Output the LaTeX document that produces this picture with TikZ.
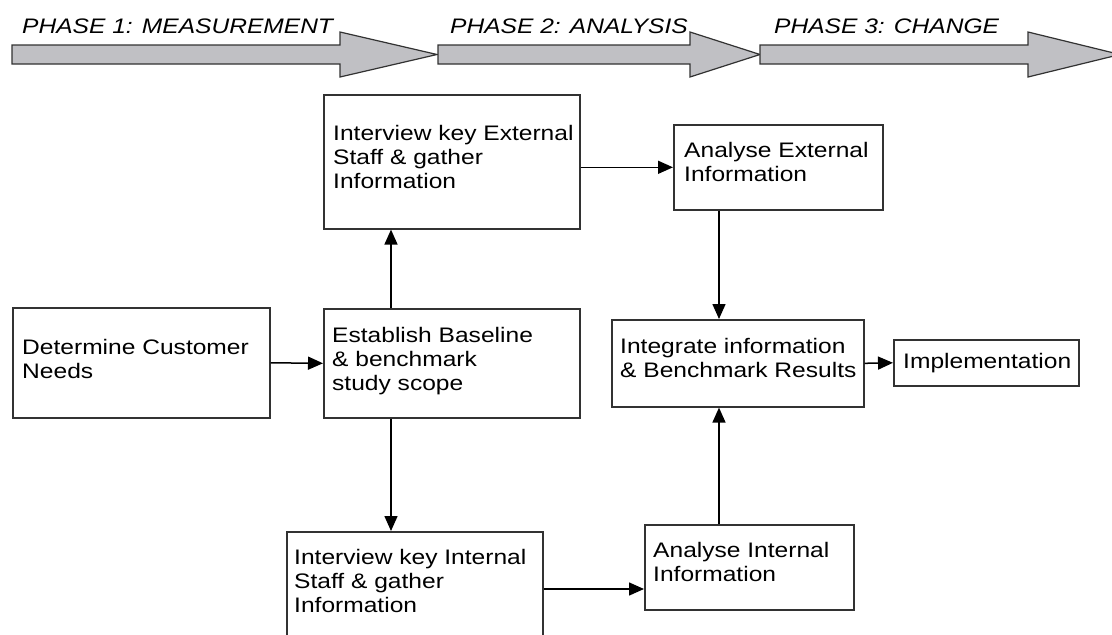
\documentclass[tikz,border=0pt]{standalone}
\usepackage{fontspec}
\setmainfont{Liberation Sans}[FakeStretch=1.17]
\usetikzlibrary{arrows.meta,calc}
\definecolor{edge}{RGB}{50,50,50}
\definecolor{band}{RGB}{192,192,196}
% left-aligned lines whose reference point is the first baseline
\newcommand{\firstlines}[1]{\begin{tabular}[t]{@{}l@{}}#1\end{tabular}}
\begin{document}
\begin{tikzpicture}[x=1pt,y=-1pt,
  box/.style={draw=edge,line width=1.6pt,fill=white,rectangle,inner sep=0pt,anchor=north west},
  txt/.style={anchor=base west,inner sep=0pt,font=\fontsize{21}{24}\selectfont},
  phase/.style={anchor=base west,inner sep=0pt,font=\fontsize{21}{24}\selectfont\itshape},
  band/.style={draw=edge,line width=1.2pt,fill=band,line join=miter},
  arr/.style={draw=black,line width=1.5pt,-{Triangle[length=15pt,width=13pt]}}]
\useasboundingbox (0,0) rectangle (1112,635);
\clip (0,0) rectangle (1112,635);

% phase bands
\draw[band] (12,45) -- (340,45) -- (340,32) -- (437,54.5) -- (340,77) -- (340,64) -- (12,64) -- cycle;
\draw[band] (438,45) -- (690,45) -- (690,32) -- (760,54.5) -- (690,77) -- (690,64) -- (438,64) -- cycle;
\draw[band] (760,45) -- (1028,45) -- (1028,32) -- (1120,54.5) -- (1028,77) -- (1028,64) -- (760,64) -- cycle;
\node[phase] (p1) at (22,33) {PHASE 1: MEASUREMENT};
\node[phase] (p2) at (450,33) {PHASE 2: ANALYSIS};
\node[phase] (p3) at (774,33) {PHASE 3: CHANGE};

% process boxes
\node[box,minimum width=257pt,minimum height=110pt] (det) at (12,307) {};
\node[box,minimum width=256pt,minimum height=109pt] (est) at (323,308) {};
\node[box,minimum width=256pt,minimum height=134pt] (iext) at (323,94) {};
\node[box,minimum width=209pt,minimum height=85pt] (aext) at (673,124) {};
\node[box,minimum width=252pt,minimum height=87pt] (integ) at (611,319) {};
\node[box,minimum width=185pt,minimum height=46pt] (impl) at (893,339) {};
\node[box,minimum width=209pt,minimum height=85pt] (aint) at (644,524) {};
\node[box,minimum width=256pt,minimum height=134pt] (iint) at (286,531) {};

% box texts
\node[txt] (tdet) at (22,354) {\firstlines{Determine Customer\\Needs}};
\node[txt] (test) at (332,342) {\firstlines{Establish Baseline\\\& benchmark\\study scope}};
\node[txt] (tiext) at (333,140) {\firstlines{Interview key External\\Staff \& gather\\Information}};
\node[txt] (taext) at (684,157) {\firstlines{Analyse External\\Information}};
\node[txt] (tinteg) at (620,353) {\firstlines{Integrate information\\\& Benchmark Results}};
\node[txt] (timpl) at (903,368) {Implementation};
\node[txt] (taint) at (653,557) {\firstlines{Analyse Internal\\Information}};
\node[txt] (tiint) at (294,564) {\firstlines{Interview key Internal\\Staff \& gather\\Information}};

% connectors
\draw[arr] (det.east) -- (est.west);
\draw[arr] ([xshift=68pt]est.north west) -- ([xshift=68pt]iext.south west);
\draw[arr] ([xshift=68pt]est.south west) coordinate (d1) -- (d1 |- iint.north);
\draw[arr] (aext.west -| iext.east) -- (aext.west);
\draw[arr] ([xshift=46pt]aext.south west) coordinate (d2) -- (d2 |- integ.north);
\draw[arr] ([xshift=75pt]aint.north west) coordinate (d3) -- (d3 |- integ.south);
\draw[arr] (integ.east) -- (impl.west);
\draw[arr] ([yshift=-58pt]iint.north east) coordinate (d4) -- (d4 -| aint.west);
\end{tikzpicture}
\end{document}
